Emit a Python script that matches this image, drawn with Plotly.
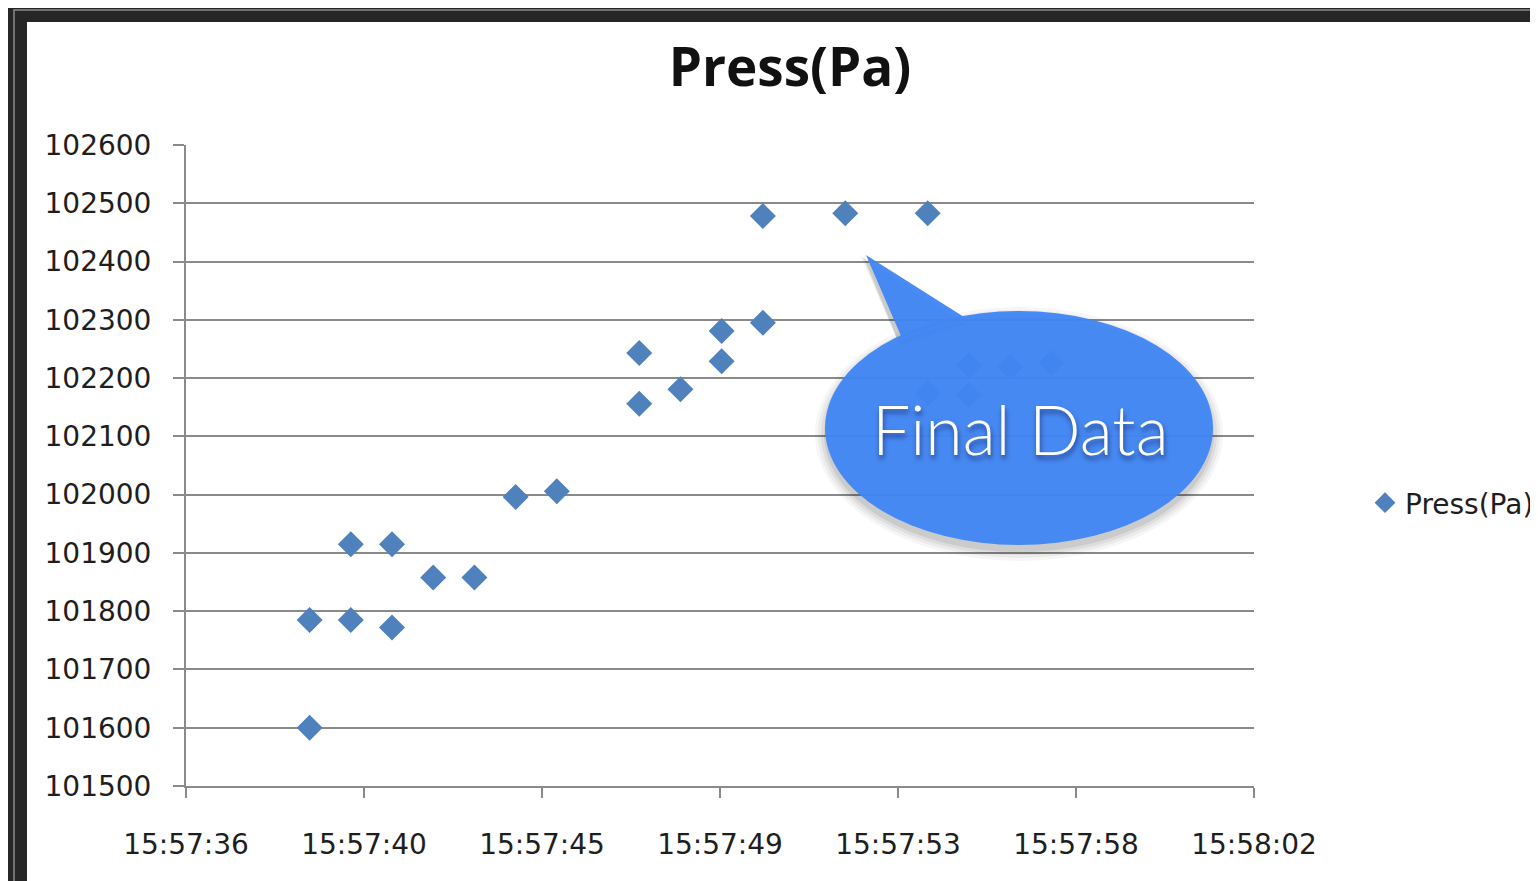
"""Press(Pa) 散点图 — Excel 风格 + 气泡标注"""
from datetime import datetime

import plotly.graph_objects as go

# ── 数据 ──
times = [
    "15:57:39", "15:57:39", "15:57:40", "15:57:40", "15:57:41", "15:57:41",
    "15:57:42", "15:57:43", "15:57:44", "15:57:45", "15:57:47", "15:57:47",
    "15:57:48", "15:57:49", "15:57:49", "15:57:50", "15:57:50", "15:57:52",
    "15:57:54", "15:57:54", "15:57:55", "15:57:55", "15:57:56", "15:57:57",
]
pressure = [
    101785, 101600, 101915, 101785, 101915, 101772,
    101858, 101858, 101996, 102006, 102243, 102156,
    102181, 102281, 102229, 102478, 102295, 102483,
    102483, 102174, 102222, 102171, 102219, 102226,
]
tick_labels = [
    "15:57:36", "15:57:40", "15:57:45", "15:57:49",
    "15:57:53", "15:57:58", "15:58:02",
]
axis_start = "15:57:36"
axis_span = 25.92          # 秒 (Excel: 0.66500 ~ 0.66530 天)
y_range = [101500, 102600]

t0 = datetime.strptime(axis_start, "%H:%M:%S")
x_sec = [(datetime.strptime(t, "%H:%M:%S") - t0).total_seconds() for t in times]
n_ticks = len(tick_labels)
tick_vals = [axis_span * i / (n_ticks - 1) for i in range(n_ticks)]

# ── 画布像素 → paper 坐标 ──
# 页面 body 有 8px 外边距，所以图本身缩小 8px
OFF = 8
W, H = 1538, 881
PL, PR, PT, PB = 186, 1254, 145, 786


def px(x):
    return (x - PL) / (PR - PL)


def py(y):
    return (PB - y) / (PB - PT)


GRID = "#8a8a8a"
FONT = "DejaVu Sans"

fig = go.Figure()
fig.add_trace(go.Scatter(
    x=x_sec, y=pressure, mode="markers", name="Press(Pa)",
    marker=dict(symbol="diamond", size=20, color="#4F81BD", line=dict(width=0)),
))

shapes = [
    # 白色图表区
    dict(type="rect", xref="paper", yref="paper", layer="below",
         x0=px(27), x1=px(W + 10), y0=py(H + 10), y1=py(22),
         fillcolor="white", line=dict(width=0)),
    # 外框细线
    dict(type="path", xref="paper", yref="paper", layer="below",
         path=f"M {px(14)},{py(H + 10)} L {px(14)},{py(10)} L {px(W + 10)},{py(10)}",
         line=dict(color="#8a8a8a", width=1.5)),
]

# 气泡阴影
for grow, op in [(10, 0.035), (7, 0.045), (4, 0.06), (1, 0.08)]:
    shapes.append(dict(
        type="circle", xref="paper", yref="paper", layer="above",
        x0=px(825 - grow), x1=px(1213 + grow),
        y0=py(545 + 6 + grow), y1=py(311 + 6 - grow),
        fillcolor=f"rgba(0,0,0,{op})", line=dict(width=0),
    ))
    shapes.append(dict(
        type="path", xref="paper", yref="paper", layer="above",
        path=(f"M {px(900)},{py(346)} L {px(866 - grow * 0.6)},{py(261 - grow * 0.6)} "
              f"L {px(965)},{py(324)} Z"),
        fillcolor=f"rgba(0,0,0,{op})", line=dict(width=0),
    ))

BUBBLE = "rgba(66,134,244,0.96)"
shapes.append(dict(
    type="circle", xref="paper", yref="paper", layer="above",
    x0=px(825), x1=px(1213), y0=py(545), y1=py(311),
    fillcolor=BUBBLE, line=dict(width=0),
))
shapes.append(dict(
    type="path", xref="paper", yref="paper", layer="above",
    path=f"M {px(901)},{py(336)} L {px(866)},{py(255)} L {px(964)},{py(317)} Z",
    fillcolor=BUBBLE, line=dict(width=0),
))

fig.update_layout(
    width=W - OFF, height=H - OFF,
    paper_bgcolor="#262626",
    plot_bgcolor="white",
    margin=dict(l=PL - OFF, r=W - PR, t=PT - OFF, b=H - PB, pad=0,
                autoexpand=False),
    title=dict(
        text="<b>Press(Pa)</b>", x=(790 - OFF) / (W - OFF), xanchor="center",
        y=1 - (67 - OFF) / (H - OFF), yanchor="middle",
        font=dict(family="Open Sans", size=53, color="#111111"),
    ),
    font=dict(family=FONT, size=28, color="#1e1e1e"),
    showlegend=True,
    legend=dict(
        x=px(1365), y=py(503), xanchor="left", yanchor="middle",
        bgcolor="rgba(0,0,0,0)", font=dict(family=FONT, size=28, color="#1e1e1e"),
    ),
    shapes=shapes,
    annotations=[dict(
        text="Final Data", xref="paper", yref="paper",
        x=px(1020), y=py(428), xanchor="center", yanchor="middle",
        showarrow=False,
        font=dict(family="Lato", weight=300, size=68, color="white",
                  shadow="1px 4px 5px rgba(0,0,50,0.5)"),
    )],
)

fig.update_xaxes(
    range=[0, axis_span], tickvals=tick_vals, ticktext=tick_labels,
    showgrid=False, zeroline=False,
    showline=True, linecolor=GRID, linewidth=2,
    ticks="outside", ticklen=10, tickwidth=2, tickcolor=GRID,
    ticklabelstandoff=22,
)
fig.update_yaxes(
    range=y_range, dtick=100, tickformat="d",
    showgrid=True, gridcolor=GRID, gridwidth=2, zeroline=False,
    showline=True, linecolor=GRID, linewidth=2,
    ticks="outside", ticklen=11, tickwidth=2, tickcolor=GRID,
    ticklabelstandoff=16,
)

fig.write_html("out.html")
